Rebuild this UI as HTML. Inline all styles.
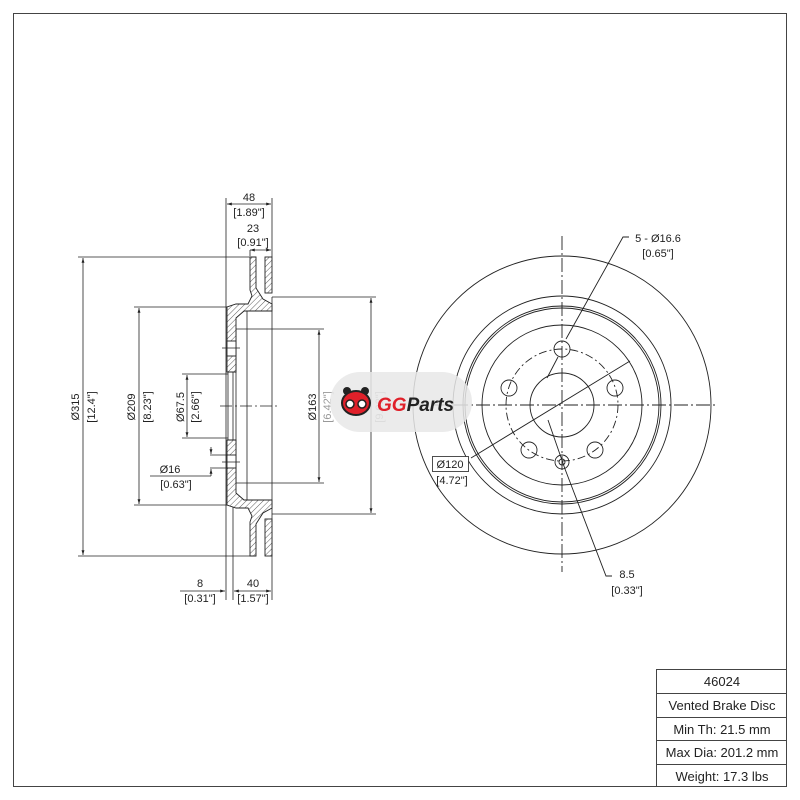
<!DOCTYPE html>
<html><head><meta charset="utf-8"><style>
body{margin:0;background:#fff}
svg{display:block}
text{font-family:"Liberation Sans",sans-serif;font-size:11px;fill:#222}
</style></head><body>
<svg width="800" height="800" viewBox="0 0 800 800" xmlns="http://www.w3.org/2000/svg">
<defs>
<pattern id="h" width="4" height="4" patternUnits="userSpaceOnUse" patternTransform="rotate(45)">
<rect width="4" height="4" fill="#fff"/><line x1="0" y1="0" x2="0" y2="4" stroke="#333" stroke-width="0.8"/>
</pattern>
<marker id="a" viewBox="0 0 10 10" refX="10" refY="5" markerWidth="6" markerHeight="6" orient="auto-start-reverse"><path d="M0,2L10,5L0,8z" fill="#222"/></marker>
</defs>
<rect x="13.5" y="13.5" width="773" height="773" fill="none" stroke="#444" stroke-width="1"/>
<!-- table -->
<g stroke="#444" fill="none" stroke-width="1">
<rect x="656.5" y="669.5" width="130" height="117"/>
<line x1="656" y1="693.5" x2="787" y2="693.5"/>
<line x1="656" y1="717.5" x2="787" y2="717.5"/>
<line x1="656" y1="740.5" x2="787" y2="740.5"/>
<line x1="656" y1="764.5" x2="787" y2="764.5"/>
</g>
<g text-anchor="middle" style="font-size:13px">
<text x="722" y="686" style="font-size:13px">46024</text>
<text x="722" y="710" style="font-size:13px">Vented Brake Disc</text>
<text x="722" y="734" style="font-size:13px">Min Th: 21.5 mm</text>
<text x="722" y="757" style="font-size:13px">Max Dia: 201.2 mm</text>
<text x="722" y="781" style="font-size:13px">Weight: 17.3 lbs</text>
</g>

<!-- side view -->
<g stroke="#222" stroke-width="0.8" fill="none">
<line x1="226" y1="198" x2="226" y2="600"/>
<line x1="272" y1="198" x2="272" y2="257"/>
<line x1="272" y1="514" x2="272" y2="600"/>
<line x1="233" y1="505" x2="233" y2="600"/>
<line x1="78" y1="257" x2="250" y2="257"/>
<line x1="78" y1="556" x2="250" y2="556"/>
<line x1="134" y1="307" x2="228" y2="307"/>
<line x1="134" y1="505" x2="228" y2="505"/>
<line x1="182" y1="374" x2="228" y2="374"/>
<line x1="182" y1="438" x2="228" y2="438"/>
<line x1="236" y1="329" x2="324" y2="329"/>
<line x1="236" y1="483" x2="324" y2="483"/>
<line x1="272" y1="297" x2="376" y2="297"/>
<line x1="272" y1="514" x2="376" y2="514"/>
<line x1="247" y1="311" x2="247" y2="500"/>
<line x1="236" y1="329" x2="236" y2="483"/>
<line x1="272" y1="297" x2="272" y2="514"/>
<line x1="228" y1="372" x2="228" y2="440"/>
<line x1="233" y1="372" x2="233" y2="440"/>
<line x1="243" y1="311" x2="272" y2="311"/>
<line x1="243" y1="500" x2="272" y2="500"/>
<line x1="220" y1="406" x2="280" y2="406" stroke-dasharray="12,3,2,3"/>
</g>
<g stroke="#222" stroke-width="0.9" fill="url(#h)">
<path d="M250,257H256V288L263,299L272,304V311H244L236,318V372H227V307L236,304H248L252,296L250,290Z"/>
<rect x="265" y="257" width="7" height="36"/>
<path d="M250,556H256V524L263,513L272,508V500H244L236,493V440H227V505L236,508H248L252,516L250,522Z"/>
<rect x="265" y="519" width="7" height="37"/>
<rect x="227" y="341" width="9" height="15" fill="#fff"/>
<rect x="227" y="455" width="9" height="13" fill="#fff"/>
</g>
<g stroke="#222" stroke-width="0.8">
<line x1="222" y1="348" x2="240" y2="348"/>
<line x1="222" y1="462" x2="240" y2="462"/>
</g>
<g stroke="#222" stroke-width="0.8" fill="none" marker-start="url(#a)" marker-end="url(#a)">
<line x1="83" y1="258" x2="83" y2="555"/>
<line x1="139" y1="308" x2="139" y2="504"/>
<line x1="187" y1="375" x2="187" y2="437"/>
<line x1="319" y1="330" x2="319" y2="482"/>
<line x1="371" y1="298" x2="371" y2="513"/>
<line x1="227" y1="204" x2="271" y2="204"/>
<line x1="250" y1="250" x2="271" y2="250"/>
<line x1="234" y1="591" x2="271" y2="591"/>
</g>
<g stroke="#222" stroke-width="0.8" fill="none">
<line x1="180" y1="591" x2="225" y2="591" marker-end="url(#a)"/>
<line x1="250" y1="250" x2="250" y2="256"/>
<line x1="211" y1="447" x2="211" y2="454" marker-end="url(#a)"/>
<line x1="211" y1="476" x2="211" y2="469" marker-end="url(#a)"/>
<line x1="210" y1="455" x2="228" y2="455"/>
<line x1="210" y1="468" x2="228" y2="468"/>
<line x1="150" y1="476" x2="211" y2="476"/>
</g>
<g text-anchor="middle">
<text x="249" y="201">48</text>
<text x="249" y="216">[1.89"]</text>
<text x="253" y="232">23</text>
<text x="253" y="246">[0.91"]</text>
<text x="200" y="587">8</text>
<text x="200" y="602">[0.31"]</text>
<text x="253" y="587">40</text>
<text x="253" y="602">[1.57"]</text>
<text x="170" y="473">Ø16</text>
<text x="176" y="488">[0.63"]</text>
<text transform="translate(79,407) rotate(-90)">Ø315</text>
<text transform="translate(95,407) rotate(-90)">[12.4"]</text>
<text transform="translate(135,407) rotate(-90)">Ø209</text>
<text transform="translate(151,407) rotate(-90)">[8.23"]</text>
<text transform="translate(184,407) rotate(-90)">Ø67.5</text>
<text transform="translate(199,407) rotate(-90)">[2.66"]</text>
<text transform="translate(316,407) rotate(-90)">Ø163</text>
<text transform="translate(331,407) rotate(-90)" style="fill:#999">[6.42"]</text>
<text transform="translate(383,407) rotate(-90)" style="fill:#999">[9.02"]</text>
</g>

<!-- front view -->
<g stroke="#222" stroke-width="0.9" fill="none">
<circle cx="562" cy="405" r="149"/>
<circle cx="562" cy="405" r="109"/>
<circle cx="562" cy="405" r="99"/>
<circle cx="562" cy="405" r="97"/>
<circle cx="562" cy="405" r="80"/>
<circle cx="562" cy="405" r="32"/>
<circle cx="562" cy="405" r="56" stroke-dasharray="8,3,2,3"/>
<circle cx="562" cy="349" r="8"/>
<circle cx="615" cy="388" r="8"/>
<circle cx="509" cy="388" r="8"/>
<circle cx="595" cy="450" r="8"/>
<circle cx="529" cy="450" r="8"/>
<circle cx="562" cy="462" r="7"/>
<circle cx="562" cy="462" r="3"/>
<line x1="562" y1="236" x2="562" y2="572" stroke-dasharray="14,3,2,3"/>
<line x1="410" y1="405" x2="718" y2="405" stroke-dasharray="14,3,2,3"/>
<polyline points="629,237 623,237 566,339"/>
<line x1="547" y1="378" x2="558" y2="357"/>
<line x1="471" y1="458" x2="630" y2="361"/>
<polyline points="548,420 565,469 606,576 612,576"/>
</g>
<g stroke="#222" stroke-width="0.8">
<rect x="432.5" y="456.5" width="36" height="15" fill="#fff"/>
</g>
<g text-anchor="middle">
<text x="658" y="242">5 - Ø16.6</text>
<text x="658" y="257">[0.65"]</text>
<text x="450" y="468">Ø120</text>
<text x="452" y="484">[4.72"]</text>
<text x="627" y="578">8.5</text>
<text x="627" y="594">[0.33"]</text>
</g>

<!-- logo -->
<rect x="330" y="372" width="142" height="60" rx="30" fill="#e8e8e8" fill-opacity="0.85"/>
<g>
<circle cx="347" cy="391" r="4" fill="#222"/><circle cx="365" cy="391" r="4" fill="#222"/>
<ellipse cx="356" cy="403" rx="14" ry="12" fill="#e0202a" stroke="#222" stroke-width="2"/>
<circle cx="350" cy="404" r="4" fill="#fff" stroke="#222" stroke-width="1.5"/>
<circle cx="362" cy="404" r="4" fill="#fff" stroke="#222" stroke-width="1.5"/>
</g>
<text x="377" y="411" style="font-size:19px;font-weight:bold;font-style:italic;fill:#e0202a">GG<tspan style="fill:#222">Parts</tspan></text>
</svg>
</body></html>
